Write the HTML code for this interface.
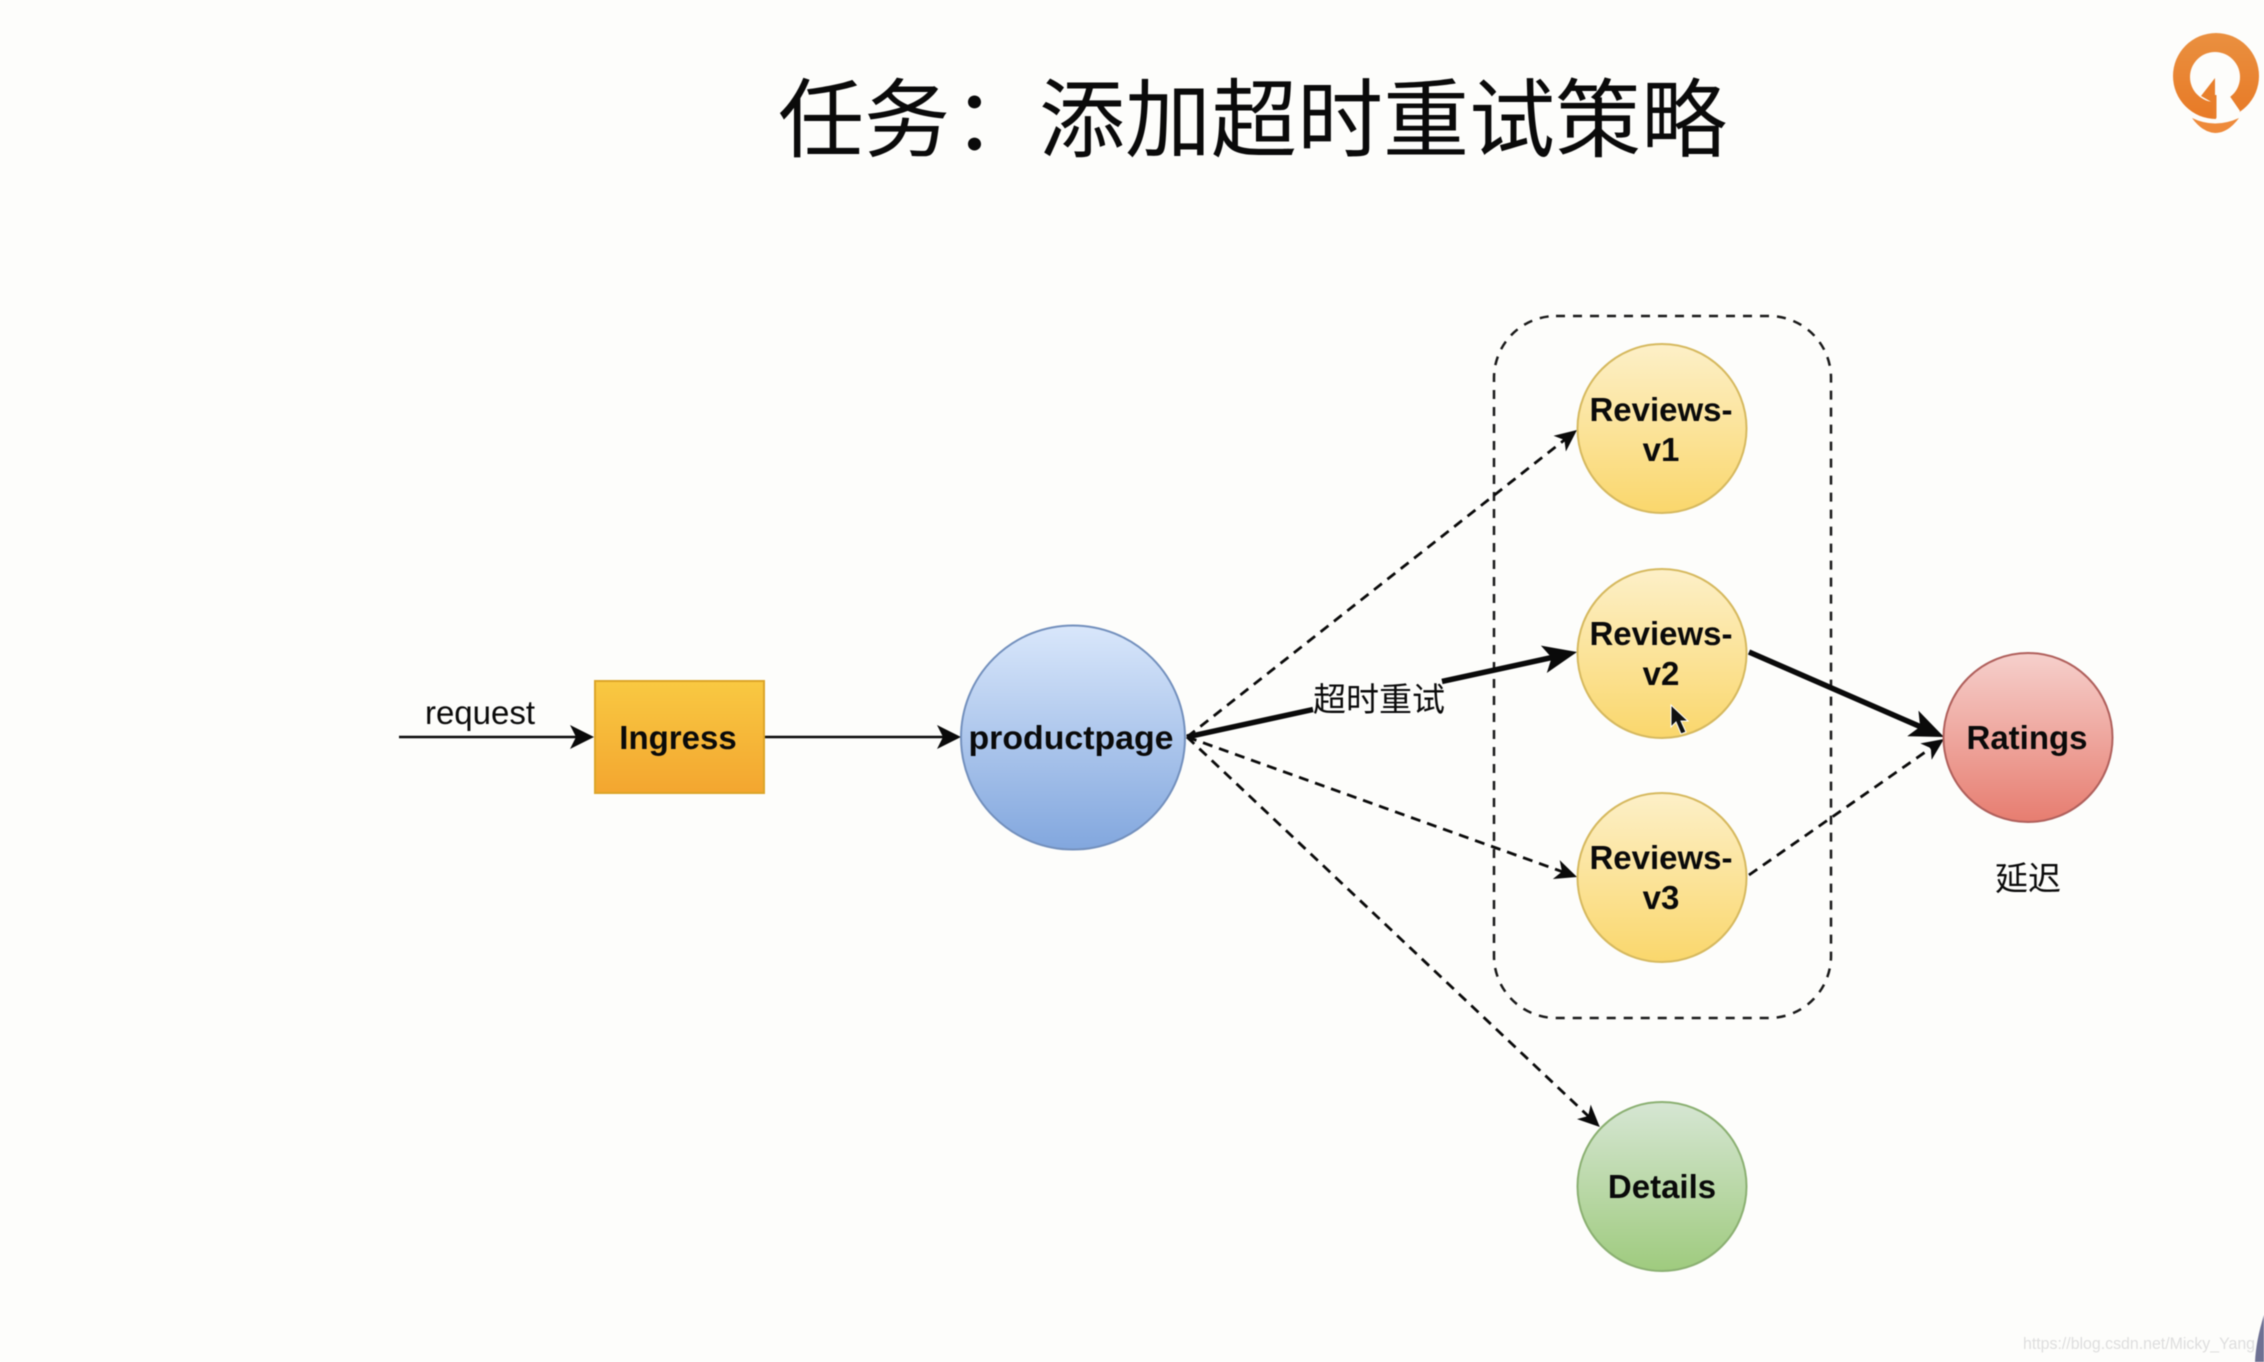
<!DOCTYPE html>
<html lang="zh">
<head>
<meta charset="utf-8">
<title>任务：添加超时重试策略</title>
<style>
html,body{margin:0;padding:0;background:#fdfdfb;}
svg{display:block;filter:blur(0.5px);}
text{font-family:"Liberation Sans","Noto Sans CJK SC",sans-serif;fill:#0a0a0a;}
.b{font-weight:700;font-size:33px;text-anchor:middle;}
.c{font-family:"Noto Sans CJK SC","Liberation Sans",sans-serif;font-size:33px;text-anchor:middle;}
.t{font-family:"Noto Sans CJK SC","Liberation Sans",sans-serif;font-size:86px;}
</style>
</head>
<body>
<svg xmlns="http://www.w3.org/2000/svg" width="2264" height="1362" viewBox="0 0 2264 1362">
<defs>
<linearGradient id="y" x1="0" y1="0" x2="0" y2="1"><stop offset="0" stop-color="#fdf0c8"/><stop offset="1" stop-color="#fad76c"/></linearGradient>
<linearGradient id="bl" x1="0" y1="0" x2="0" y2="1"><stop offset="0" stop-color="#d9e7fb"/><stop offset="1" stop-color="#82a7de"/></linearGradient>
<linearGradient id="r" x1="0" y1="0" x2="0" y2="1"><stop offset="0" stop-color="#f6d0cc"/><stop offset="1" stop-color="#e77d70"/></linearGradient>
<linearGradient id="g" x1="0" y1="0" x2="0" y2="1"><stop offset="0" stop-color="#d6e6d3"/><stop offset="1" stop-color="#9fcb7e"/></linearGradient>
<linearGradient id="o" x1="0" y1="0" x2="0" y2="1"><stop offset="0" stop-color="#f9c942"/><stop offset="1" stop-color="#f3a630"/></linearGradient>
<linearGradient id="lg" x1="0" y1="0" x2="0" y2="1"><stop offset="0" stop-color="#ea9040"/><stop offset="1" stop-color="#e87a26"/></linearGradient>
<marker id="m1" markerUnits="userSpaceOnUse" markerWidth="24" markerHeight="24" viewBox="0 0 24 24" refX="16" refY="12" orient="auto"><path d="M0,0 L24,12 L0,24 L6,12 Z" fill="#0a0a0a"/></marker>
<marker id="m2" markerUnits="userSpaceOnUse" markerWidth="22" markerHeight="20" viewBox="0 0 22 20" refX="14" refY="10" orient="auto"><path d="M0,0 L22,10 L0,20 L6,10 Z" fill="#0a0a0a"/></marker>
<marker id="m3" markerUnits="userSpaceOnUse" markerWidth="34" markerHeight="28" viewBox="0 0 34 28" refX="22" refY="14" orient="auto"><path d="M0,0 L34,14 L0,28 L8,14 Z" fill="#0a0a0a"/></marker>
</defs>

<rect width="2264" height="1362" fill="#fdfdfb"/>

<text class="t" x="778" y="150">任务</text>
<text class="t" x="953" y="150">：</text>
<text class="t" x="1039" y="150">添加超时重试策略</text>

<!-- logo -->
<circle cx="2216" cy="76" r="43" fill="url(#lg)"/>
<circle cx="2215" cy="77" r="25" fill="#fdfdfb"/>
<polygon points="2216,82 2229,95 2240,111 2232,125 2216,125" fill="#fdfdfb"/>
<polygon points="2215,78 2201,96 2215,104" fill="#e87f2c"/>
<rect x="2213" y="95" width="3.5" height="23" fill="#e87f2c"/>
<path d="M2192,118 Q2215,129 2239,118 Q2228,133 2215,133 Q2202,132 2192,118 Z" fill="#ee8a3a"/>

<!-- dashed group -->
<rect x="1494" y="316" width="337" height="702" rx="62" ry="62" fill="none" stroke="#1a1a1a" stroke-width="2.5" stroke-dasharray="9 8"/>

<!-- connectors -->
<line x1="399" y1="737" x2="586" y2="737" stroke="#0a0a0a" stroke-width="2.5" marker-end="url(#m1)"/>
<line x1="765" y1="737" x2="953" y2="737" stroke="#0a0a0a" stroke-width="2.5" marker-end="url(#m1)"/>
<g fill="none" stroke="#0a0a0a" stroke-width="2.8" stroke-dasharray="10 7">
<line x1="1187" y1="737" x2="1570.7" y2="435" marker-end="url(#m2)"/>
<line x1="1187" y1="737" x2="1569.5" y2="874.3" marker-end="url(#m2)"/>
<line x1="1187" y1="737" x2="1594" y2="1121.5" marker-end="url(#m2)"/>
<line x1="1749" y1="875" x2="1937.4" y2="743.6" marker-end="url(#m2)"/>
</g>
<line x1="1187" y1="737" x2="1313" y2="709.5" stroke="#0a0a0a" stroke-width="5.5"/>
<line x1="1442" y1="681.4" x2="1565.3" y2="654.6" stroke="#0a0a0a" stroke-width="5.5" marker-end="url(#m3)"/>
<line x1="1749" y1="652" x2="1933" y2="732.2" stroke="#0a0a0a" stroke-width="5.5" marker-end="url(#m3)"/>

<!-- nodes -->
<rect x="595" y="681" width="169" height="112" fill="url(#o)" stroke="#dca528" stroke-width="2"/>
<circle cx="1073" cy="737.5" r="112" fill="url(#bl)" stroke="#7390bd" stroke-width="2"/>
<circle cx="1662" cy="428.5" r="84.5" fill="url(#y)" stroke="#d6b95f" stroke-width="2"/>
<circle cx="1662" cy="653.5" r="84.5" fill="url(#y)" stroke="#d6b95f" stroke-width="2"/>
<circle cx="1662" cy="877.5" r="84.5" fill="url(#y)" stroke="#d6b95f" stroke-width="2"/>
<circle cx="2028" cy="737.5" r="84.5" fill="url(#r)" stroke="#b0605c" stroke-width="2"/>
<circle cx="1662" cy="1186.5" r="84.5" fill="url(#g)" stroke="#8bb072" stroke-width="2"/>

<!-- labels -->
<text x="480" y="724" font-size="33" text-anchor="middle">request</text>
<text class="b" x="678" y="749">Ingress</text>
<text class="b" x="1071" y="749" textLength="205" lengthAdjust="spacingAndGlyphs">productpage</text>
<text class="b" x="1661" y="421">Reviews-</text>
<text class="b" x="1661" y="461">v1</text>
<text class="b" x="1661" y="645">Reviews-</text>
<text class="b" x="1661" y="685">v2</text>
<text class="b" x="1661" y="869">Reviews-</text>
<text class="b" x="1661" y="909">v3</text>
<text class="b" x="2027" y="749">Ratings</text>
<text class="b" x="1662" y="1198">Details</text>
<text class="c" x="1379" y="711">超时重试</text>
<text class="c" x="2028" y="890">延迟</text>

<!-- cursor -->
<polygon points="1671,705 1671,727 1676,722 1681,734 1686,732 1681,721 1688,721" fill="#111" stroke="#fff" stroke-width="1"/>

<!-- watermark and corner -->
<text x="2023" y="1349" font-size="17" textLength="232" lengthAdjust="spacingAndGlyphs" style="fill:#dedede">https://blog.csdn.net/Micky_Yang</text>
<path d="M2264,1315 Q2256,1340 2255,1362 L2264,1362 Z" fill="#6e7193"/>
</svg>
</body>
</html>
